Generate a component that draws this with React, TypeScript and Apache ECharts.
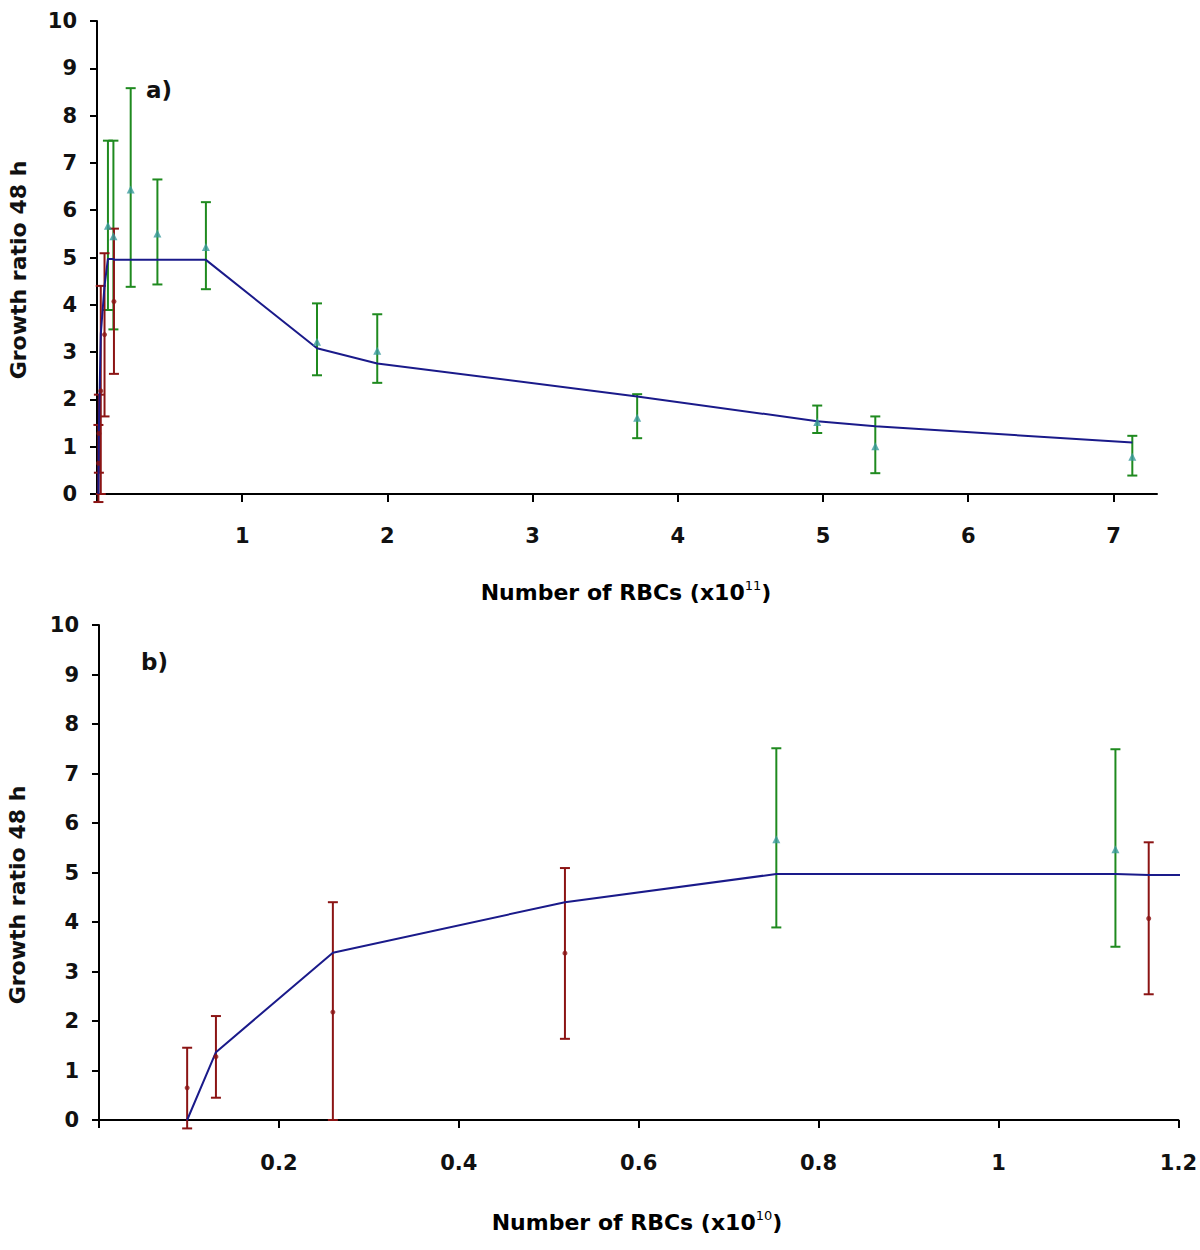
import React, { useEffect, useRef } from "react";
import * as echarts from "echarts";

// ---------- Panel a) (x in units of 10^11 RBCs) ----------
const aGreenX = [0.0753, 0.113, 0.232, 0.416, 0.75, 1.515, 1.93, 3.72, 4.96, 5.36, 7.13];
const aGreenY = [5.67, 5.45, 6.44, 5.51, 5.22, 3.22, 3.03, 1.61, 1.52, 1.01, 0.79];
const aGreenLow = [3.89, 3.48, 4.38, 4.43, 4.33, 2.51, 2.35, 1.18, 1.29, 0.44, 0.39];
const aGreenHigh = [7.47, 7.47, 8.58, 6.65, 6.17, 4.03, 3.8, 2.11, 1.87, 1.64, 1.23];

const aRedX = [0.0098, 0.013, 0.026, 0.0518, 0.1167];
const aRedY = [0.65, 1.28, 2.18, 3.37, 4.07];
const aRedLow = [-0.17, 0.45, 0.0, 1.64, 2.54];
const aRedHigh = [1.46, 2.1, 4.4, 5.09, 5.61];

const aLineX = [0.0098, 0.013, 0.026, 0.0518, 0.0753, 0.113, 0.1167, 0.232, 0.416, 0.75, 1.515, 1.93, 3.72, 4.96, 5.36, 7.13];
const aLineY = [0, 1.37, 3.38, 4.4, 4.97, 4.97, 4.95, 4.95, 4.95, 4.95, 3.08, 2.76, 2.06, 1.54, 1.43, 1.09];

const aXTicks = [0, 1, 2, 3, 4, 5, 6, 7];
const aXLabels = [1, 2, 3, 4, 5, 6, 7];

// ---------- Panel b) (x in units of 10^10 RBCs) ----------
const bGreenX = [0.753, 1.13];
const bGreenY = [5.67, 5.47];
const bGreenLow = [3.89, 3.5];
const bGreenHigh = [7.51, 7.49];

const bRedX = [0.098, 0.13, 0.26, 0.518, 1.167];
const bRedY = [0.65, 1.28, 2.18, 3.37, 4.07];
const bRedLow = [-0.17, 0.45, 0.0, 1.64, 2.54];
const bRedHigh = [1.46, 2.1, 4.4, 5.09, 5.61];

const bLineX = [0.098, 0.13, 0.26, 0.518, 0.753, 1.13, 1.167, 2.32];
const bLineY = [0, 1.37, 3.38, 4.4, 4.97, 4.97, 4.95, 4.95];

const bXLabels = [0.2, 0.4, 0.6, 0.8, 1, 1.2];

const GREEN_BAR = "#1f8a1f";
const GREEN_MARK = "#3a9a9c";
const RED = "#8b1414";
const NAVY = "#1a1a8a";
const FONT = "DejaVu Sans";

function errorSeries(name: string, xs: number[], lo: number[], hi: number[], color: string, idx: number) {
  return {
    type: "custom",
    name,
    xAxisIndex: idx,
    yAxisIndex: idx,
    clip: false,
    z: 2,
    encode: { x: 0, y: [1, 2] },
    data: xs.map((x, i) => [x, lo[i], hi[i]]),
    renderItem: (params: any, api: any) => {
      const x = api.value(0);
      const top = api.coord([x, api.value(2)]);
      const bot = api.coord([x, api.value(1)]);
      const w = 5;
      const st = { stroke: color, lineWidth: 2 };
      return {
        type: "group",
        children: [
          { type: "line", shape: { x1: top[0], y1: top[1], x2: bot[0], y2: bot[1] }, style: st },
          { type: "line", shape: { x1: top[0] - w, y1: top[1], x2: top[0] + w, y2: top[1] }, style: st },
          { type: "line", shape: { x1: bot[0] - w, y1: bot[1], x2: bot[0] + w, y2: bot[1] }, style: st },
        ],
      };
    },
  };
}

function markSeries(name: string, xs: number[], ys: number[], symbol: string, size: number, color: string, idx: number) {
  return {
    type: "scatter",
    name,
    xAxisIndex: idx,
    yAxisIndex: idx,
    symbol,
    symbolSize: size,
    itemStyle: { color },
    z: 4,
    data: xs.map((x, i) => [x, ys[i]]),
  };
}

function lineSeries(xs: number[], ys: number[], idx: number) {
  return {
    type: "line",
    name: "model",
    xAxisIndex: idx,
    yAxisIndex: idx,
    showSymbol: false,
    symbol: "none",
    lineStyle: { color: NAVY, width: 2 },
    z: 3,
    data: xs.map((x, i) => [x, ys[i]]),
  };
}

const axisLabelStyle = { fontFamily: FONT, fontWeight: "bold" as const, fontSize: 21, color: "#111" };

function yAxis(idx: number) {
  return {
    type: "value",
    gridIndex: idx,
    min: 0,
    max: 10,
    interval: 1,
    axisLine: { show: true, lineStyle: { color: "#000", width: 2 } },
    axisTick: { show: true, inside: false, length: 7, lineStyle: { color: "#000", width: 2 } },
    axisLabel: { ...axisLabelStyle, margin: 20 },
    splitLine: { show: false },
  };
}

const titleRich = {
  t: { fontFamily: FONT, fontWeight: "bold", fontSize: 22, color: "#111" },
  s: { fontFamily: FONT, fontSize: 13, fontWeight: "normal", color: "#111", padding: [0, 0, 13, 0] },
};

export default function App() {
  const ref = useRef<HTMLDivElement>(null);
  useEffect(() => {
    if (!ref.current) return;
    const chart = echarts.init(ref.current, undefined, { renderer: "svg" });
    const option: any = {
      animation: false,
      backgroundColor: "#ffffff",
      grid: [
        { left: 97, top: 21, width: 1060, height: 473, containLabel: false },
        { left: 99, top: 625, width: 1081, height: 495, containLabel: false },
      ],
      xAxis: [
        {
          type: "value",
          gridIndex: 0,
          min: 0,
          max: 7.3,
          interval: 1,
          axisLine: { show: true, onZero: false, lineStyle: { color: "#000", width: 2 } },
          axisTick: { show: true, length: 8, customValues: aXTicks, lineStyle: { color: "#000", width: 2 } },
          axisLabel: { ...axisLabelStyle, margin: 31, customValues: aXLabels },
          splitLine: { show: false },
        },
        {
          type: "value",
          gridIndex: 1,
          min: 0,
          max: 1.2,
          interval: 0.2,
          axisLine: { show: true, onZero: false, lineStyle: { color: "#000", width: 2 } },
          axisTick: { show: true, length: 8, lineStyle: { color: "#000", width: 2 } },
          axisLabel: {
            ...axisLabelStyle,
            margin: 32,
            customValues: bXLabels,
            formatter: (v: number) => String(Math.round(v * 10) / 10),
          },
          splitLine: { show: false },
        },
      ],
      yAxis: [yAxis(0), yAxis(1)],
      graphic: [
        {
          type: "text",
          x: 18,
          y: 270,
          rotation: Math.PI / 2,
          style: { text: "Growth ratio 48 h", font: `bold 22px "${FONT}"`, fill: "#111", align: "center", verticalAlign: "middle" },
        },
        {
          type: "text",
          x: 17,
          y: 895,
          rotation: Math.PI / 2,
          style: { text: "Growth ratio 48 h", font: `bold 22px "${FONT}"`, fill: "#111", align: "center", verticalAlign: "middle" },
        },
        {
          type: "text",
          x: 626,
          y: 592,
          style: {
            text: "{t|Number of RBCs (x10}{s|11}{t|)}",
            align: "center",
            verticalAlign: "middle",
            rich: titleRich,
          },
        },
        {
          type: "text",
          x: 637,
          y: 1222,
          style: {
            text: "{t|Number of RBCs (x10}{s|10}{t|)}",
            align: "center",
            verticalAlign: "middle",
            rich: titleRich,
          },
        },
        {
          type: "text",
          x: 146,
          y: 90,
          style: { text: "a)", font: `bold 23px "${FONT}"`, fill: "#111", align: "left", verticalAlign: "middle" },
        },
        {
          type: "text",
          x: 141,
          y: 662,
          style: { text: "b)", font: `bold 23px "${FONT}"`, fill: "#111", align: "left", verticalAlign: "middle" },
        },
      ],
      series: [
        errorSeries("a green err", aGreenX, aGreenLow, aGreenHigh, GREEN_BAR, 0),
        errorSeries("a red err", aRedX, aRedLow, aRedHigh, RED, 0),
        lineSeries(aLineX, aLineY, 0),
        markSeries("a green", aGreenX, aGreenY, "triangle", 8, GREEN_MARK, 0),
        markSeries("a red", aRedX, aRedY, "circle", 5, RED, 0),
        errorSeries("b green err", bGreenX, bGreenLow, bGreenHigh, GREEN_BAR, 1),
        errorSeries("b red err", bRedX, bRedLow, bRedHigh, RED, 1),
        lineSeries(bLineX, bLineY, 1),
        markSeries("b green", bGreenX, bGreenY, "triangle", 8, GREEN_MARK, 1),
        markSeries("b red", bRedX, bRedY, "circle", 5, RED, 1),
      ],
    };
    chart.setOption(option);
    return () => chart.dispose();
  }, []);
  return <div ref={ref} style={{ position: "absolute", left: 0, top: 0, width: 1200, height: 1250 }} />;
}
